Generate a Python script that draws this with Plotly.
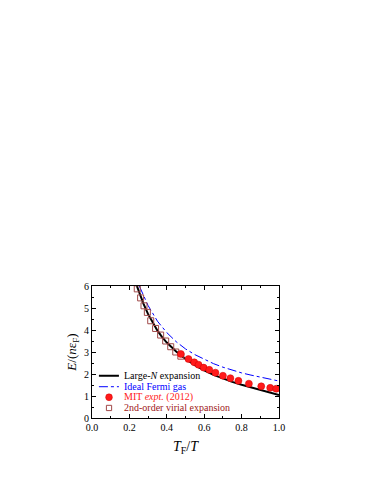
import plotly.graph_objects as go

# Large-N expansion (solid black)
largen_x = [0.24, 0.25, 0.275, 0.3, 0.325, 0.35, 0.375, 0.4, 0.45, 0.5, 0.55, 0.6,
            0.65, 0.7, 0.75, 0.8, 0.85, 0.9, 0.95, 1.0]
largen_y = [6.0, 5.76, 5.2, 4.72, 4.32, 3.97, 3.68, 3.43, 3.02, 2.68, 2.40, 2.16,
            1.96, 1.79, 1.64, 1.51, 1.39, 1.27, 1.15, 1.04]

# ideal Fermi gas (blue dash-dot)
fermi_x = [0.253, 0.275, 0.3, 0.35, 0.4, 0.45, 0.5, 0.55, 0.6, 0.65, 0.7, 0.75,
           0.8, 0.85, 0.9, 0.95, 1.0]
fermi_y = [6.0, 5.55, 5.11, 4.40, 3.88, 3.47, 3.14, 2.88, 2.66, 2.47, 2.31, 2.17,
           2.05, 1.95, 1.85, 1.76, 1.68]

# MIT expt. (2012)
mit_x = [0.475, 0.516, 0.547, 0.57, 0.597, 0.627, 0.66, 0.70, 0.74, 0.783,
         0.839, 0.905, 0.953, 0.985]
mit_y = [2.91, 2.68, 2.53, 2.42, 2.29, 2.19, 2.06, 1.92, 1.81, 1.69,
         1.56, 1.44, 1.37, 1.33]

# 2nd-order virial expansion
vir_x = [0.242, 0.26, 0.278, 0.296, 0.314, 0.34, 0.367, 0.394, 0.421, 0.448, 0.475]
vir_y = [5.87, 5.46, 5.1, 4.8, 4.42, 4.07, 3.77, 3.5, 3.24, 3.0, 2.81]

legend_labels = ["Large-<i>N</i> expansion", "Ideal Fermi gas",
                 "MIT <i>expt.</i> (2012)", "2nd-order virial expansion"]

serif = "Liberation Serif, Times New Roman, serif"
vir_col = "#a04848"

fig = go.Figure()
fig.add_trace(go.Scatter(x=largen_x, y=largen_y, mode="lines",
                         line=dict(color="black", width=2)))
fig.add_trace(go.Scatter(x=fermi_x, y=fermi_y, mode="lines",
                         line=dict(color="blue", width=1, dash="dashdot")))
fig.add_trace(go.Scatter(x=vir_x, y=vir_y, mode="markers",
                         marker=dict(color=vir_col, size=6, symbol="square-open",
                                     line=dict(color=vir_col, width=1))))
fig.add_trace(go.Scatter(x=mit_x, y=mit_y, mode="markers",
                         marker=dict(color="#ff1a1a", size=7, symbol="circle",
                                     line=dict(color="#d00000", width=0.5))))

# hand-made compact legend (native plotly legend rows are too tall)
rows = [0.32, 0.237, 0.157, 0.076]
colors = ["black", "blue", "#ff1a1a", "#a02020"]
fig.add_shape(type="line", xref="x domain", yref="y domain", x0=0.037, x1=0.144,
              y0=rows[0], y1=rows[0], line=dict(color="black", width=2))
fig.add_shape(type="line", xref="x domain", yref="y domain", x0=0.037, x1=0.144,
              y0=rows[1], y1=rows[1], line=dict(color="blue", width=1, dash="dashdot"))
fig.add_shape(type="circle", xref="x domain", yref="y domain", fillcolor="#ff1a1a",
              line=dict(color="#d00000", width=0.5),
              x0=0.091 - 0.018, x1=0.091 + 0.018, y0=rows[2] - 0.026, y1=rows[2] + 0.026)
fig.add_shape(type="rect", xref="x domain", yref="y domain",
              line=dict(color=vir_col, width=1),
              x0=0.091 - 0.014, x1=0.091 + 0.014, y0=rows[3] - 0.02, y1=rows[3] + 0.02)
for lab, yy, c in zip(legend_labels, rows, colors):
    fig.add_annotation(x=0.16, y=yy, xref="x domain", yref="y domain", text=lab,
                       showarrow=False, xanchor="left", yanchor="middle",
                       font=dict(family=serif, size=10, color=c))

axis_common = dict(showline=True, linecolor="black", linewidth=1, mirror="ticks",
                   ticks="inside", ticklen=4, tickcolor="black", showgrid=False,
                   zeroline=False, automargin=False,
                   tickfont=dict(family=serif, size=10, color="black"))

fig.update_xaxes(range=[0, 1], tick0=0, dtick=0.2, tickformat=".1f",
                 minor=dict(ticks="inside", ticklen=2, dtick=0.1, tickcolor="black"),
                 title=dict(text="<i>T</i><sub>F</sub>/<i>T</i>", standoff=9,
                            font=dict(family=serif, size=14, color="black")),
                 **axis_common)
fig.update_yaxes(range=[0, 6], tick0=0, dtick=1,
                 minor=dict(ticks="inside", ticklen=2, dtick=0.5, tickcolor="black"),
                 title=dict(text="<i>E</i>/(<i>n</i>ε<sub>F</sub>)", standoff=4,
                            font=dict(family=serif, size=13, color="black")),
                 **axis_common)

# page body adds an 8px offset, so margins are shifted accordingly
fig.update_layout(
    width=374, height=484,
    margin=dict(l=84, r=103, t=278, b=74),
    paper_bgcolor="white", plot_bgcolor="white",
    showlegend=False,
)

fig.write_html("out.html")
